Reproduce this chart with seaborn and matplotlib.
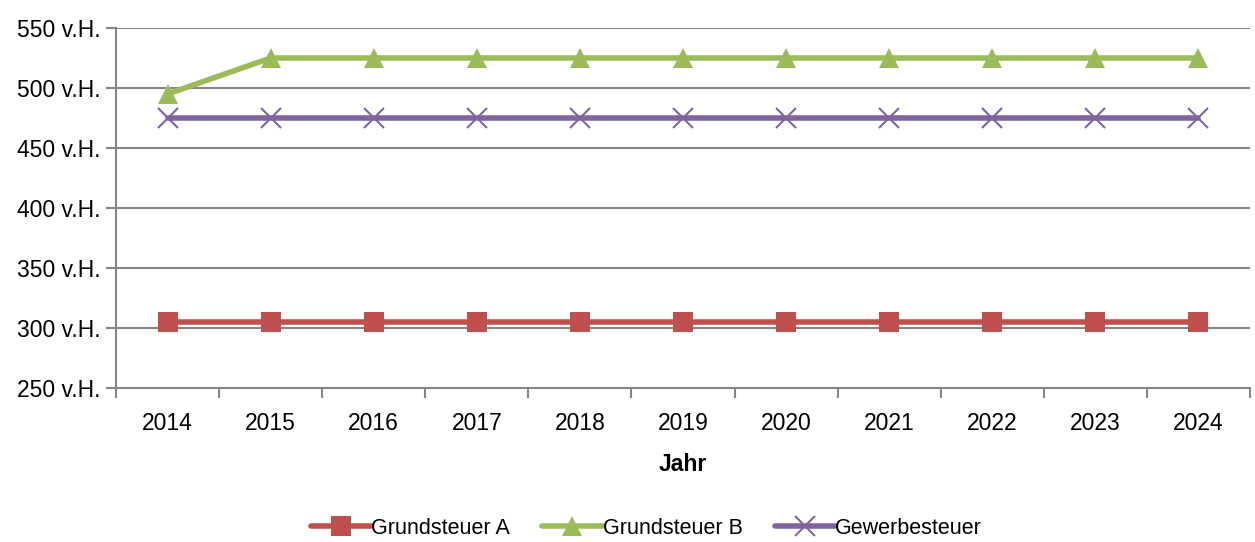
import matplotlib
matplotlib.use("Agg")
from matplotlib import pyplot as plt
import seaborn as sns
import pandas as pd
import numpy as np

years = ["2014", "2015", "2016", "2017", "2018", "2019", "2020", "2021", "2022", "2023", "2024"]
grundsteuer_a = [305, 305, 305, 305, 305, 305, 305, 305, 305, 305, 305]
grundsteuer_b = [495, 525, 525, 525, 525, 525, 525, 525, 525, 525, 525]
gewerbesteuer = [475, 475, 475, 475, 475, 475, 475, 475, 475, 475, 475]
series_names = ["Grundsteuer A", "Grundsteuer B", "Gewerbesteuer"]
y_ticks = [250, 300, 350, 400, 450, 500, 550]

sns.set_style("white")
plt.rcParams['font.family'] = ['Liberation Sans', 'DejaVu Sans']
plt.rcParams['text.color'] = 'black'
plt.rcParams['xtick.color'] = 'black'
plt.rcParams['ytick.color'] = 'black'
plt.rcParams['axes.labelcolor'] = 'black'

df = pd.DataFrame({"pos": np.arange(len(years)),
                   "Grundsteuer A": grundsteuer_a,
                   "Grundsteuer B": grundsteuer_b,
                   "Gewerbesteuer": gewerbesteuer})

colors = {"Grundsteuer A": "#C0504D", "Grundsteuer B": "#9BBB59", "Gewerbesteuer": "#8064A2"}
markers = {"Grundsteuer A": "s", "Grundsteuer B": "^", "Gewerbesteuer": "x"}
msize = {"Grundsteuer A": 14, "Grundsteuer B": 15, "Gewerbesteuer": 14}
fs = 16.5
fs_leg = 15.5

fig = plt.figure(figsize=(12.55, 5.42), dpi=100)
ax = fig.add_axes([116 / 1255, 1 - 388 / 542, (1250 - 116) / 1255, 360 / 542])

grid_col = "#868686"
for v in y_ticks:
    ax.axhline(v, color=grid_col, lw=1.5, zorder=0)

# one call per series, filled and line markers can't be mixed in one call
for name in series_names:
    is_x = markers[name] == "x"
    sns.lineplot(data=df, x="pos", y=name, color=colors[name], marker=markers[name],
                 markersize=msize[name], markeredgewidth=1.5 if is_x else 0,
                 markeredgecolor=colors[name], lw=4, ax=ax, zorder=3)

ax.set_xlim(-0.5, len(years) - 0.5)
ax.set_ylim(250, 550)
ax.set_yticks(y_ticks)
ax.set_yticklabels([f"{v} v.H." for v in y_ticks], fontsize=fs)
ax.set_xticks(np.arange(len(years)))
ax.set_xticklabels(years, fontsize=fs)
ax.set_xticks(np.arange(len(years) + 1) - 0.5, minor=True)
ax.tick_params(axis="x", which="major", bottom=True, length=0, pad=17)
ax.tick_params(axis="x", which="minor", bottom=True, length=7, width=1.5, color=grid_col, direction="out")
ax.tick_params(axis="y", left=True, length=7, width=1.5, color=grid_col, labelcolor="black",
               direction="out", pad=4)
ax.set_xlabel("Jahr", fontsize=fs, fontweight="bold", labelpad=13)
ax.set_ylabel("")

for s in ["top", "right"]:
    ax.spines[s].set_visible(False)
for s in ["left", "bottom"]:
    ax.spines[s].set_color(grid_col)
    ax.spines[s].set_linewidth(1.5)

handles = []
for name in series_names:
    is_x = markers[name] == "x"
    h, = ax.plot([], [], color=colors[name], lw=4, marker=markers[name],
                 markersize=msize[name], markeredgewidth=1.5 if is_x else 0,
                 markeredgecolor=colors[name])
    handles.append(h)
fig.legend(handles, series_names, loc="lower center", bbox_to_anchor=(0.515, -0.03),
           ncol=3, frameon=False, fontsize=fs_leg, handlelength=2.8,
           handletextpad=0.0, columnspacing=1.5)

fig.savefig("out.png", dpi=100)
